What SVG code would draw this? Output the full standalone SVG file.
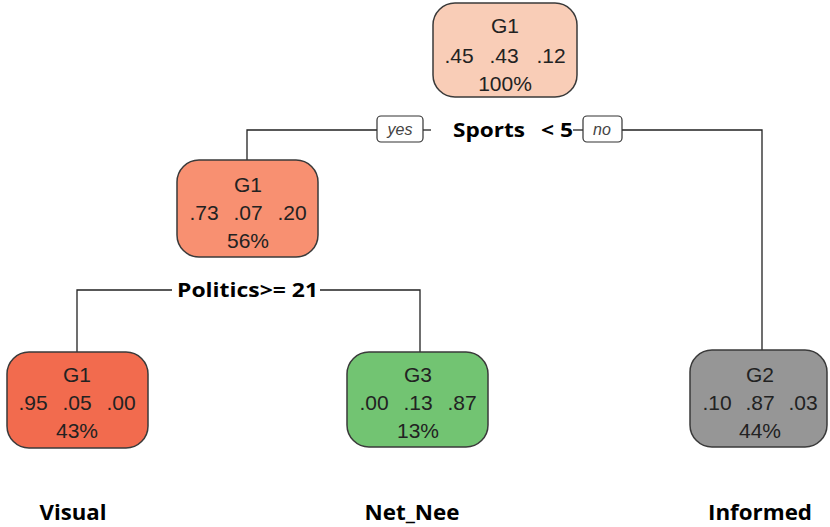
<svg xmlns="http://www.w3.org/2000/svg" width="830" height="527" viewBox="0 0 830 527">
<style>
.node{stroke:#3a3a3a;stroke-width:1.5}
.nt{font-family:"Liberation Sans",Arial,sans-serif;font-size:21px;fill:#222;text-anchor:middle}
.edge{stroke:#222;stroke-width:1.3;fill:none}
.lab{font-family:"Open Sans","Liberation Sans",sans-serif;font-weight:bold;font-size:20px;fill:#000}
.yn{fill:#fff;stroke:#333;stroke-width:1.2}
.ynt{font-family:"Liberation Sans",Arial,sans-serif;font-style:italic;font-size:16px;fill:#444;text-anchor:middle}
.leaf{font-family:"Open Sans","Liberation Sans",sans-serif;font-weight:bold;font-size:22px;fill:#000;text-anchor:middle}
</style>
<rect width="830" height="527" fill="#fff"/>
<g id="connectors">
<path class="edge" d="M377,130 H247 V160"/>
<path class="edge" d="M423,130 H431"/>
<path class="edge" d="M573,130 H583"/>
<path class="edge" d="M622,130 H762 V350"/>
<path class="edge" d="M172,290 H77 V352"/>
<path class="edge" d="M320,290 H420 V352"/>
<g id="yes"><rect class="yn" x="377" y="116" width="46" height="26" rx="4"/><text class="ynt" x="400" y="135">yes</text></g>
<g id="no"><rect class="yn" x="583" y="116" width="39" height="26" rx="4"/><text class="ynt" x="602" y="135">no</text></g>
<text class="lab" x="453" y="137" textLength="72" lengthAdjust="spacingAndGlyphs">Sports</text>
<text class="lab" x="541" y="137" textLength="32" lengthAdjust="spacingAndGlyphs">&lt; 5</text>
<text class="lab" x="177" y="297" textLength="141" lengthAdjust="spacingAndGlyphs">Politics&gt;= 21</text>
</g>
<g id="root">
<rect class="node" x="433" y="3" width="144" height="94" rx="22" fill="#F9CDB7"/>
<text class="nt" x="505" y="33">G1</text>
<text class="nt" y="63"><tspan x="459">.45</tspan><tspan x="504">.43</tspan><tspan x="551">.12</tspan></text>
<text class="nt" x="505" y="91">100%</text>
</g>
<g id="n2">
<rect class="node" x="177" y="160" width="141" height="97" rx="22" fill="#F89071"/>
<text class="nt" x="248" y="192">G1</text>
<text class="nt" y="220"><tspan x="204">.73</tspan><tspan x="248">.07</tspan><tspan x="292">.20</tspan></text>
<text class="nt" x="248" y="248">56%</text>
</g>
<g id="leafVisual">
<rect class="node" x="7" y="352" width="141" height="96" rx="22" fill="#F26B4E"/>
<text class="nt" x="77" y="382">G1</text>
<text class="nt" y="410"><tspan x="33">.95</tspan><tspan x="77">.05</tspan><tspan x="121">.00</tspan></text>
<text class="nt" x="77" y="438">43%</text>
</g>
<g id="leafNet">
<rect class="node" x="347" y="352" width="141" height="95" rx="22" fill="#72C472"/>
<text class="nt" x="418" y="382">G3</text>
<text class="nt" y="410"><tspan x="374">.00</tspan><tspan x="418">.13</tspan><tspan x="462">.87</tspan></text>
<text class="nt" x="418" y="438">13%</text>
</g>
<g id="leafInformed">
<rect class="node" x="690" y="350" width="137" height="97" rx="22" fill="#969696"/>
<text class="nt" x="760" y="382">G2</text>
<text class="nt" y="410"><tspan x="717">.10</tspan><tspan x="760">.87</tspan><tspan x="803">.03</tspan></text>
<text class="nt" x="760" y="438">44%</text>
</g>
<g id="leafLabels">
<text class="leaf" x="73" y="520" textLength="67" lengthAdjust="spacingAndGlyphs">Visual</text>
<text class="leaf" x="412" y="520" textLength="95" lengthAdjust="spacingAndGlyphs">Net_Nee</text>
<text class="leaf" x="760" y="520" textLength="104" lengthAdjust="spacingAndGlyphs">Informed</text>
</g>
</svg>
